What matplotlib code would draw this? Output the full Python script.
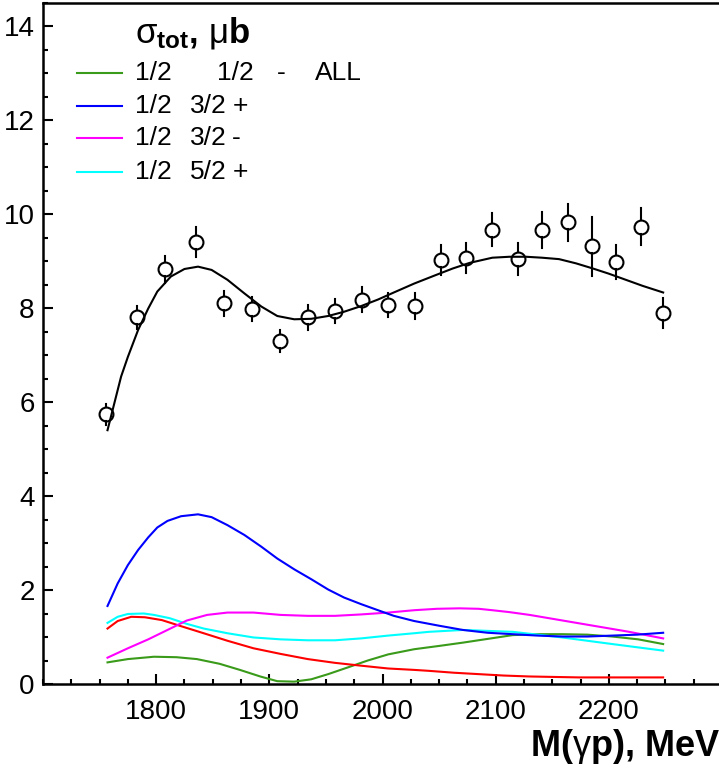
import matplotlib
matplotlib.use('Agg')
import matplotlib.pyplot as plt
from matplotlib.ticker import MultipleLocator

plt.rcParams['font.family'] = ['Liberation Sans', 'DejaVu Sans']
plt.rcParams['mathtext.fontset'] = 'custom'
plt.rcParams['mathtext.rm'] = 'Liberation Sans'
plt.rcParams['mathtext.it'] = 'Liberation Sans'
plt.rcParams['mathtext.bf'] = 'Liberation Sans:bold'

# data points (sigma_tot, mub)
data_m = [1756, 1783, 1808, 1835, 1860, 1885, 1909, 1934, 1958, 1982, 2005,
          2029, 2052, 2074, 2097, 2120, 2141, 2164, 2185, 2206, 2228, 2248]
data_s = [5.74, 7.80, 8.82, 9.41, 8.10, 7.98, 7.30, 7.80, 7.94, 8.18, 8.06,
          8.04, 9.02, 9.06, 9.67, 9.04, 9.66, 9.82, 9.31, 8.97, 9.73, 7.90]
data_e = [0.22, 0.25, 0.29, 0.32, 0.27, 0.26, 0.24, 0.27, 0.26, 0.27, 0.26,
          0.27, 0.32, 0.32, 0.35, 0.34, 0.38, 0.40, 0.63, 0.36, 0.40, 0.32]

# total fit
fit_m = [1757, 1763, 1769, 1775, 1784, 1793, 1801, 1813, 1825, 1837, 1849, 1863,
         1878, 1893, 1907, 1922, 1937, 1952, 1966, 1981, 1996, 2010, 2028, 2047,
         2062, 2077, 2097, 2112, 2127, 2141, 2156, 2171, 2186, 2200, 2215, 2230, 2248]
fit_s = [5.40, 5.97, 6.54, 6.96, 7.53, 7.99, 8.35, 8.67, 8.83, 8.88, 8.81, 8.60,
         8.31, 8.03, 7.83, 7.76, 7.77, 7.83, 7.92, 8.04, 8.18, 8.33, 8.52, 8.70,
         8.84, 8.96, 9.07, 9.09, 9.09, 9.07, 9.04, 8.95, 8.84, 8.73, 8.60, 8.47, 8.33]

# partial waves
blue_m = [1757, 1766, 1775, 1784, 1793, 1801, 1810, 1822, 1837, 1849, 1863, 1878,
          1893, 1907, 1922, 1937, 1952, 1966, 1981, 1996, 2010, 2028, 2050, 2071,
          2093, 2115, 2137, 2159, 2181, 2203, 2225, 2248]
blue_s = [1.66, 2.14, 2.53, 2.85, 3.12, 3.33, 3.47, 3.57, 3.61, 3.55, 3.38, 3.17,
          2.92, 2.67, 2.44, 2.23, 2.01, 1.84, 1.70, 1.57, 1.45, 1.34, 1.24, 1.15,
          1.09, 1.06, 1.03, 1.01, 1.01, 1.03, 1.05, 1.09]

mag_m = [1757, 1775, 1793, 1810, 1827, 1845, 1863, 1886, 1910, 1934, 1958, 1981,
         2005, 2028, 2048, 2068, 2085, 2097, 2112, 2130, 2152, 2174, 2196, 2218,
         2233, 2248]
mag_s = [0.56, 0.76, 0.95, 1.15, 1.35, 1.47, 1.52, 1.52, 1.47, 1.45, 1.45, 1.48,
         1.52, 1.57, 1.60, 1.61, 1.60, 1.57, 1.53, 1.47, 1.38, 1.29, 1.20, 1.11,
         1.04, 0.97]

cyan_m = [1757, 1766, 1775, 1789, 1798, 1812, 1827, 1842, 1863, 1886, 1910, 1934,
          1958, 1981, 2005, 2028, 2041, 2071, 2115, 2159, 2203, 2248]
cyan_s = [1.30, 1.43, 1.49, 1.50, 1.47, 1.40, 1.28, 1.18, 1.08, 0.99, 0.95, 0.93,
          0.93, 0.97, 1.03, 1.08, 1.11, 1.15, 1.11, 0.99, 0.85, 0.71]

red_m = [1757, 1766, 1778, 1790, 1805, 1822, 1842, 1863, 1886, 1910, 1934, 1958,
         1981, 2005, 2028, 2041, 2063, 2085, 2107, 2130, 2152, 2174, 2200, 2248]
red_s = [1.18, 1.34, 1.43, 1.42, 1.36, 1.23, 1.08, 0.92, 0.76, 0.64, 0.53, 0.45,
         0.39, 0.33, 0.30, 0.28, 0.24, 0.21, 0.18, 0.16, 0.15, 0.14, 0.14, 0.14]

green_m = [1757, 1775, 1798, 1818, 1836, 1856, 1874, 1892, 1907, 1922, 1937, 1952,
           1969, 1987, 2005, 2028, 2050, 2071, 2093, 2115, 2137, 2159, 2181, 2203,
           2226, 2248]
green_s = [0.46, 0.53, 0.58, 0.57, 0.53, 0.43, 0.30, 0.16, 0.06, 0.05, 0.10, 0.21,
           0.35, 0.50, 0.63, 0.74, 0.81, 0.88, 0.96, 1.04, 1.06, 1.06, 1.05, 1.01,
           0.95, 0.85]

legend_colors = ['#3a9a1a', '#0000ff', '#ff00ff', '#00ffff']
# legend text pieces per row: (label, left pixel)
legend_rows = [
    [('1/2', 135), ('1/2', 217), ('-', 277), ('ALL', 315)],
    [('1/2', 135), ('3/2', 190), ('+', 233)],
    [('1/2', 135), ('3/2', 190), ('-', 232)],
    [('1/2', 135), ('5/2', 190), ('+', 233)],
]

W, H = 719, 768
fig = plt.figure(figsize=(W / 100, H / 100), dpi=100)
ax = fig.add_axes([43 / W, 84 / H, (722 - 43) / W, 681.5 / H])
ax.set_xlim(1700, 2300)
ax.set_ylim(0, 14.5)

lw = 1.5
ax.plot(green_m, green_s, color=legend_colors[0], lw=lw)
ax.plot(red_m, red_s, color='#ff0000', lw=lw)
ax.plot(cyan_m, cyan_s, color='#00ffff', lw=lw)
ax.plot(mag_m, mag_s, color='#ff00ff', lw=lw)
ax.plot(blue_m, blue_s, color='#0000ff', lw=lw)
ax.plot(fit_m, fit_s, color='black', lw=lw)

# error bars stop at the marker edge
gap = 7 / 47.0
for m, s, e in zip(data_m, data_s, data_e):
    ax.plot([m, m], [s + gap, s + e], color='black', lw=lw)
    ax.plot([m, m], [s - gap, s - e], color='black', lw=lw)
ax.plot(data_m, data_s, 'o', mfc='none', mec='black', mew=1.5, ms=10)

ax.xaxis.set_major_locator(MultipleLocator(100))
ax.xaxis.set_minor_locator(MultipleLocator(25))
ax.yaxis.set_major_locator(MultipleLocator(2))
ax.yaxis.set_minor_locator(MultipleLocator(0.5))
ax.tick_params(which='both', direction='in', width=1.5, labelsize=20)
ax.tick_params(which='major', length=7.5)
ax.tick_params(which='minor', length=3.8)
ax.tick_params(axis='x', pad=10.5)
ax.tick_params(axis='y', pad=6)
ax.set_xticks([1800, 1900, 2000, 2100, 2200])
for sp in ax.spines.values():
    sp.set_linewidth(1.8)
ax.spines['right'].set_visible(False)

# legend
fig.text(135 / W, 1 - 33 / H, r'$\mathrm{\sigma}_{\mathbf{tot}}$, $\mathrm{\mu}$b',
         fontsize=25, fontweight='bold', va='center')
rows = [73, 106, 138, 172]
for pieces, col, y in zip(legend_rows, legend_colors, rows):
    fig.add_artist(plt.Line2D([77 / W, 122 / W], [1 - y / H, 1 - y / H],
                              color=col, lw=lw, transform=fig.transFigure))
    for lab, xp in pieces:
        fig.text(xp / W, 1 - y / H, lab, fontsize=19, va='center')

# axis title, runs off the right edge as in the original
fig.text(530 / W, 1 - 746 / H, r'M($\mathrm{\gamma}$p), MeV', fontsize=26,
         fontweight='bold', va='center', ha='left')

fig.savefig('out.png', dpi=100)
